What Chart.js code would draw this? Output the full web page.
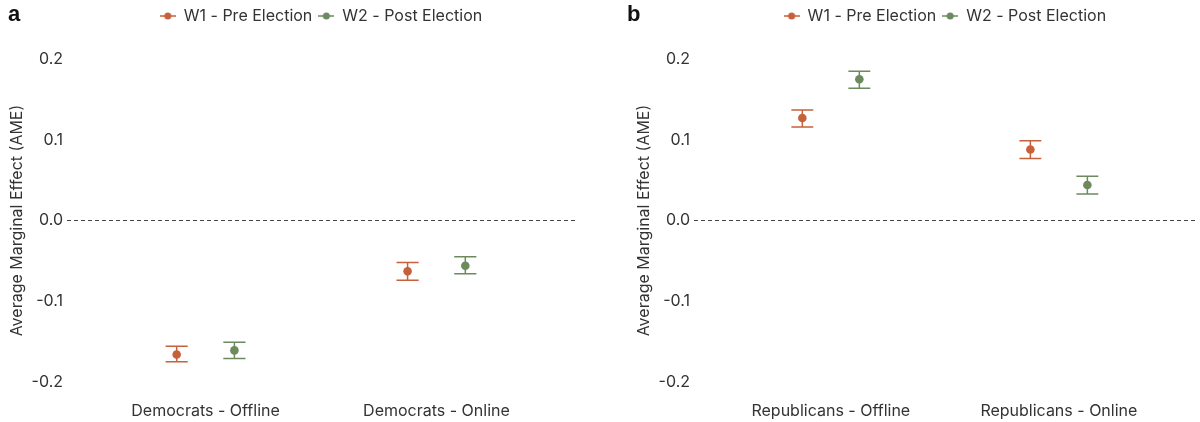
<!DOCTYPE html>
<html>
<head>
<meta charset="utf-8">
<script src="https://cdn.jsdelivr.net/npm/chart.js@4"></script>
<style>
  body { margin: 0; background: #fff; width: 1200px; height: 422px; position: relative; overflow: hidden; }
  .panel { position: absolute; top: 0; width: 600px; height: 422px; }
  .tag { position: absolute; top: 1px; font: bold 22px "Liberation Sans", Arial, sans-serif; color: #111; }
</style>
</head>
<body>
<div class="panel" style="left:0"><canvas id="chartA" width="600" height="422"></canvas></div>
<div class="panel" style="left:600px"><canvas id="chartB" width="600" height="422"></canvas></div>
<div class="tag" style="left:8px">a</div>
<div class="tag" style="left:627px">b</div>
<script>
const seriesNames = ['W1 - Pre Election', 'W2 - Post Election']
const colors = ['#c6613a', '#6c8a5d']
const yTicks = [-0.2, -0.1, 0, 0.1, 0.2]

const demCategories = ['Democrats - Offline', 'Democrats - Online']
const demW1 = [-0.166, -0.063]
const demW1Lo = [-0.175, -0.074]
const demW1Hi = [-0.156, -0.052]
const demW2 = [-0.161, -0.056]
const demW2Lo = [-0.171, -0.066]
const demW2Hi = [-0.151, -0.045]

const repCategories = ['Republicans - Offline', 'Republicans - Online']
const repW1 = [0.127, 0.088]
const repW1Lo = [0.116, 0.077]
const repW1Hi = [0.137, 0.099]
const repW2 = [0.175, 0.044]
const repW2Lo = [0.164, 0.033]
const repW2Hi = [0.185, 0.055]

const dodge = [-0.125, 0.125]
const capWidth = 0.048

Chart.defaults.font.family = 'Inter'
Chart.defaults.font.size = 16
Chart.defaults.color = '#333'

function keyIcon(color) {
  let c = document.createElement('canvas')
  c.width = 16
  c.height = 10
  let g = c.getContext('2d')
  g.strokeStyle = color
  g.lineWidth = 1.5
  g.beginPath()
  g.moveTo(0, 5)
  g.lineTo(16, 5)
  g.stroke()
  g.fillStyle = color
  g.beginPath()
  g.arc(8, 5, 3.5, 0, Math.PI * 2)
  g.fill()
  return c
}
const icons = colors.map(keyIcon)

// whiskers drawn under the points, through the chart's own scales
const errorBars = {
  id: 'errorBars',
  beforeDatasetsDraw(chart) {
    const { ctx, scales: { x, y } } = chart
    chart.data.datasets.forEach(ds => {
      ctx.save()
      ctx.strokeStyle = ds.backgroundColor
      ctx.lineWidth = 1.5
      ds.data.forEach((pt, j) => {
        let px = x.getPixelForValue(pt.x)
        let half = x.getPixelForValue(pt.x + capWidth) - px
        let lo = y.getPixelForValue(ds.errLo[j])
        let hi = y.getPixelForValue(ds.errHi[j])
        ctx.beginPath()
        ctx.moveTo(px, lo); ctx.lineTo(px, hi)
        ctx.moveTo(px - half, lo); ctx.lineTo(px + half, lo)
        ctx.moveTo(px - half, hi); ctx.lineTo(px + half, hi)
        ctx.stroke()
      })
      ctx.restore()
    })
  }
}

// centre the legend over the plot area like ggplot does
const legendShift = {
  id: 'legendShift',
  afterLayout(chart) {
    let lg = chart.legend
    let ca = chart.chartArea
    let dx = (ca.left + ca.right) / 2 - (lg.left + lg.right) / 2
    lg.left += dx
    lg.right += dx
    lg.top -= 9
    lg.bottom -= 9
  }
}

function makeChart(id, categories, series, padLeft, padRight) {
  return new Chart(document.getElementById(id), {
    type: 'scatter',
    data: {
      datasets: series.map((s, i) => ({
        label: seriesNames[i],
        data: s.values.map((v, j) => ({ x: j + 1 + dodge[i], y: v })),
        errLo: s.lo,
        errHi: s.hi,
        backgroundColor: colors[i],
        borderWidth: 0,
        pointRadius: 4.3,
        pointHoverRadius: 4.3
      }))
    },
    options: {
      responsive: false,
      animation: false,
      events: [],
      layout: { padding: { top: 11, left: padLeft, right: padRight, bottom: 0 } },
      plugins: {
        tooltip: { enabled: false },
        legend: {
          position: 'top',
          labels: {
            usePointStyle: true,
            padding: 6,
            font: { size: 16 },
            color: '#333',
            generateLabels(chart) {
              return Chart.defaults.plugins.legend.labels.generateLabels(chart).map((item, i) => {
                item.pointStyle = icons[i]
                return item
              })
            }
          }
        }
      },
      scales: {
        x: {
          type: 'linear',
          min: 0.4,
          max: 2.6,
          afterBuildTicks: scale => { scale.ticks = categories.map((c, i) => ({ value: i + 1 })) },
          afterFit: scale => { scale.height = 24 },
          grid: { display: false, drawTicks: false },
          border: { display: false },
          ticks: {
            autoSkip: false,
            maxRotation: 0,
            padding: 4,
            color: '#333',
            callback: v => categories[Math.round(v) - 1]
          }
        },
        y: {
          min: -0.22,
          max: 0.22,
          afterBuildTicks: scale => { scale.ticks = yTicks.map(v => ({ value: v })) },
          afterFit: scale => { scale.width = 67 },
          grid: {
            drawTicks: false,
            lineWidth: 1,
            color: ctx => (ctx.tick && ctx.tick.value === 0 ? '#444' : 'rgba(0,0,0,0)')
          },
          border: { display: false, dash: [4, 3] },
          ticks: {
            padding: 4,
            color: '#333',
            callback: v => v.toFixed(1)
          },
          title: {
            display: true,
            text: 'Average Marginal Effect (AME)',
            color: '#333',
            font: { size: 16 },
            padding: { top: 8, bottom: 0 }
          }
        }
      }
    },
    plugins: [errorBars, legendShift]
  })
}

makeChart('chartA', demCategories, [
  { values: demW1, lo: demW1Lo, hi: demW1Hi },
  { values: demW2, lo: demW2Lo, hi: demW2Hi }
], 0, 25)

makeChart('chartB', repCategories, [
  { values: repW1, lo: repW1Lo, hi: repW1Hi },
  { values: repW2, lo: repW2Lo, hi: repW2Hi }
], 27, 2)
</script>
</body>
</html>
